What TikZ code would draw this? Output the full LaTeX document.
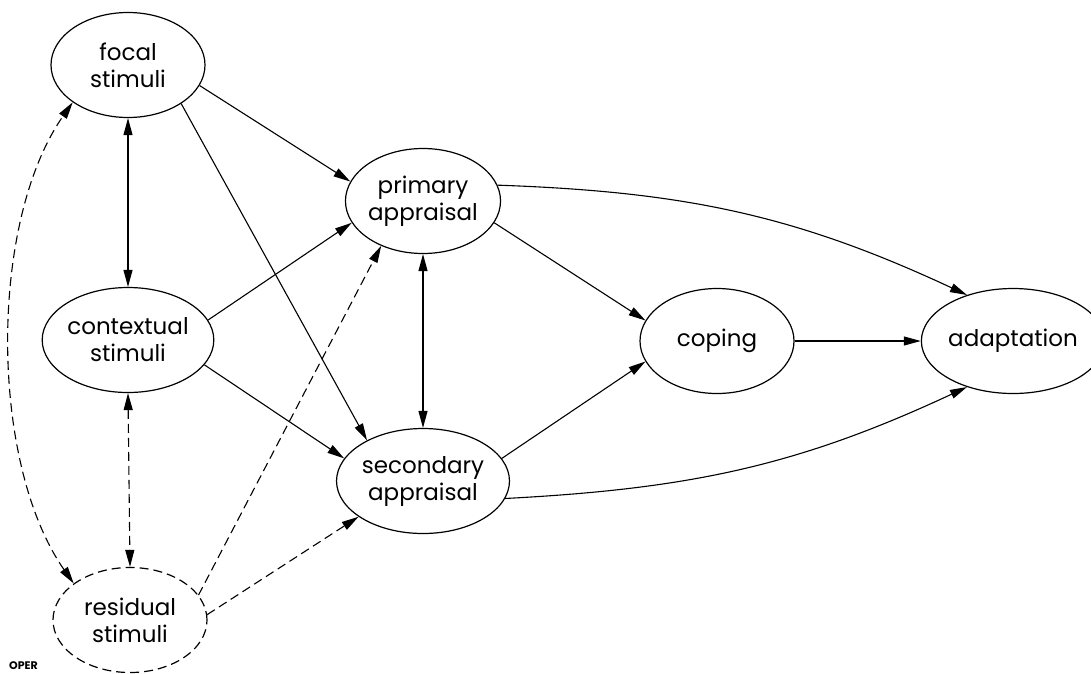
\documentclass[tikz,border=0pt]{standalone}
\usepackage{fontspec}
\setmainfont{Poppins}
\usetikzlibrary{shapes.geometric,arrows.meta}

\begin{document}
\begin{tikzpicture}[x=1pt,y=1pt,
    blob/.style={draw,ellipse,line width=1.2pt,minimum width=154pt,minimum height=105pt,
      inner sep=0pt,align=center,font=\fontsize{23}{27}\selectfont},
    arr/.style={line width=1.1pt,-{Triangle[length=17pt,width=9pt]}},
    twoway/.style={line width=1.1pt,{Triangle[length=17pt,width=9pt]}-{Triangle[length=17pt,width=9pt]}},
    dsh/.style={dash pattern=on 9pt off 5pt}]
  \useasboundingbox (0,0) rectangle (1091,-673);
  \begin{scope}
    % stimuli on the left
    \node[blob] (fs) at (128,-65) {focal\\stimuli};
    \node[blob] (cs) at (128,-340) {contextual\\stimuli};
    \node[blob,dsh] (rs) at (130,-620) {residual\\stimuli};
    % appraisal, coping, adaptation
    \node[blob] (pa) at (423,-201) {primary\\appraisal};
    \node[blob] (sa) at (423,-481) {secondary\\appraisal};
    \node[blob] (cp) at (717,-341) {coping};
    \node[blob] (ad) at (1013,-341) {adaptation};
    \node[anchor=south west,inner sep=0pt,font=\fontsize{11}{11}\selectfont\bfseries] (op) at (9,-670) {OPER};

    \draw[twoway] (fs.south) -- (cs.north);
    \draw[arr] (fs.-16) -- (pa.165);
    \draw[arr] (fs.-36) -- (sa.144);
    \draw[arr] (cs.14) -- (pa.-163);
    \draw[arr] (cs.-18) -- (sa.164);
    \draw[twoway] (pa.south) -- (sa.north);
    \draw[arr] (pa.-17) -- (cp.164);
    \draw[arr] (sa.16) -- (cp.-164);
    \draw[arr] (cp.east) -- (ad.west);
    \draw[arr] (pa.12) to[out=-2,in=155] (ad.135);
    \draw[arr] (sa.-12) to[out=3,in=-155] (ad.-135);
    % dashed links from residual stimuli
    \draw[twoway,dsh] (rs.147) to[out=125,in=-125,looseness=0.78] (fs.-146);
    \draw[twoway,dsh] (cs.south) -- (rs.north);
    \draw[arr,dsh] (rs.20) -- (pa.-133);
    \draw[arr,dsh] (rs.4) -- (sa.-151);
  \end{scope}
\end{tikzpicture}
\end{document}
